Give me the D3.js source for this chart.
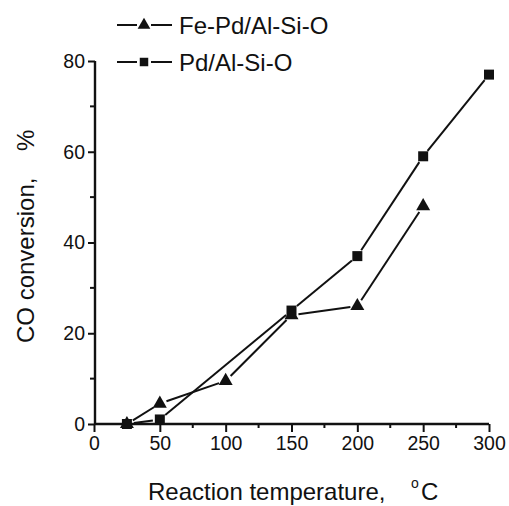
<!DOCTYPE html>
<html><head><meta charset="utf-8">
<script src="https://cdn.jsdelivr.net/npm/d3@7"></script>
<style>body{margin:0;background:#fff}svg{display:block}text{font-family:Arial,"Liberation Sans",sans-serif;fill:#111}</style>
</head><body>
<script>
const xTicks = [0, 50, 100, 150, 200, 250, 300];
const yTicks = [0, 20, 40, 60, 80];
const seriesNames = ["Fe-Pd/Al-Si-O", "Pd/Al-Si-O"];
const feTemps = [25, 50, 100, 150, 200, 250];
const feValues = [0, 4.5, 9.5, 24, 26, 48];
const pdTemps = [25, 50, 150, 200, 250, 300];
const pdValues = [0, 1, 25, 37, 59, 77];

const W = 509, H = 506;
const svg = d3.select("body").append("svg").attr("width", W).attr("height", H);
const x = d3.scaleLinear().domain([0, 300]).range([94, 489]);
const y = d3.scaleLinear().domain([0, 80]).range([424, 61]);

// minor ticks
const g = svg.append("g");
g.selectAll(".mx").data(d3.range(25, 300, 50)).join("line")
  .attr("x1", d => x(d)).attr("x2", d => x(d)).attr("y1", 424).attr("y2", 428)
  .attr("stroke", "#111").attr("stroke-width", 2);
g.selectAll(".my").data(d3.range(10, 80, 20)).join("line")
  .attr("y1", d => y(d)).attr("y2", d => y(d)).attr("x1", 90).attr("x2", 95)
  .attr("stroke", "#111").attr("stroke-width", 2);

const xAxis = svg.append("g").attr("transform", "translate(0,424)")
  .call(d3.axisBottom(x).tickValues(xTicks).tickSize(8).tickPadding(4).tickSizeOuter(0));
const yAxis = svg.append("g").attr("transform", "translate(95,0)")
  .call(d3.axisLeft(y).tickValues(yTicks).tickSize(7).tickPadding(3).tickSizeOuter(0));
[xAxis, yAxis].forEach(a => {
  a.attr("font-size", null).attr("font-family", null);
  a.select(".domain").attr("stroke", "#111").attr("stroke-width", 2.4);
  a.selectAll(".tick line").attr("stroke", "#111").attr("stroke-width", 2);
  a.selectAll(".tick text").style("font-size", "19.5px").attr("fill", "#111")
    .style("font-family", "Arial, 'Liberation Sans', sans-serif");
});
xAxis.select(".domain").attr("d", `M${x(0)},0H${x(300)}`);
yAxis.select(".domain").attr("d", `M0,${y(0)}V${y(80)}`);

function drawSeries(temps, vals, shape) {
  const pts = temps.map((t, i) => [x(t), y(vals[i])]);
  const gap = 7;
  const segs = d3.pairs(pts).map(([a, b]) => {
    const dx = b[0] - a[0], dy = b[1] - a[1], L = Math.hypot(dx, dy);
    const ux = dx / L, uy = dy / L;
    return [[a[0] + ux * gap, a[1] + uy * gap], [b[0] - ux * gap, b[1] - uy * gap]];
  });
  svg.append("g").selectAll("line").data(segs).join("line")
    .attr("x1", d => d[0][0]).attr("y1", d => d[0][1])
    .attr("x2", d => d[1][0]).attr("y2", d => d[1][1])
    .attr("stroke", "#111").attr("stroke-width", 2);
  const sym = d3.symbol().type(shape).size(shape === d3.symbolSquare ? 100 : 85);
  svg.append("g").selectAll("path").data(pts).join("path")
    .attr("d", sym).attr("transform", d => `translate(${d[0]},${d[1]})`).attr("fill", "#111");
}
drawSeries(pdTemps, pdValues, d3.symbolSquare);
drawSeries(feTemps, feValues, d3.symbolTriangle);

// legend
const legend = svg.append("g");
const legRows = [{name: seriesNames[0], shape: d3.symbolTriangle, yy: 25, size: 70},
                 {name: seriesNames[1], shape: d3.symbolSquare, yy: 62, size: 72}];
legRows.forEach(r => {
  legend.append("line").attr("x1", 117).attr("x2", 137).attr("y1", r.yy).attr("y2", r.yy).attr("stroke", "#111").attr("stroke-width", 2);
  legend.append("line").attr("x1", 151).attr("x2", 172).attr("y1", r.yy).attr("y2", r.yy).attr("stroke", "#111").attr("stroke-width", 2);
  legend.append("path").attr("d", d3.symbol().type(r.shape).size(r.size)()).attr("transform", `translate(144,${r.yy})`).attr("fill", "#111");
  legend.append("text").attr("x", 179).attr("y", r.yy + 9).style("font-size", "24px").text(r.name);
});

// axis titles
svg.append("text").attr("x", 148).attr("y", 500).style("font-size", "24px").text("Reaction temperature,");
svg.append("text").attr("x", 421).attr("y", 500).style("font-size", "24px").text("C");
svg.append("text").attr("x", 411).attr("y", 488).style("font-size", "14px").text("o");
svg.append("text").attr("transform", "translate(34,343) rotate(-90)").style("font-size", "24px")
  .text("CO conversion,");
svg.append("text").attr("transform", "translate(34,151) rotate(-90)").style("font-size", "24px")
  .text("%");
</script>
</body></html>
